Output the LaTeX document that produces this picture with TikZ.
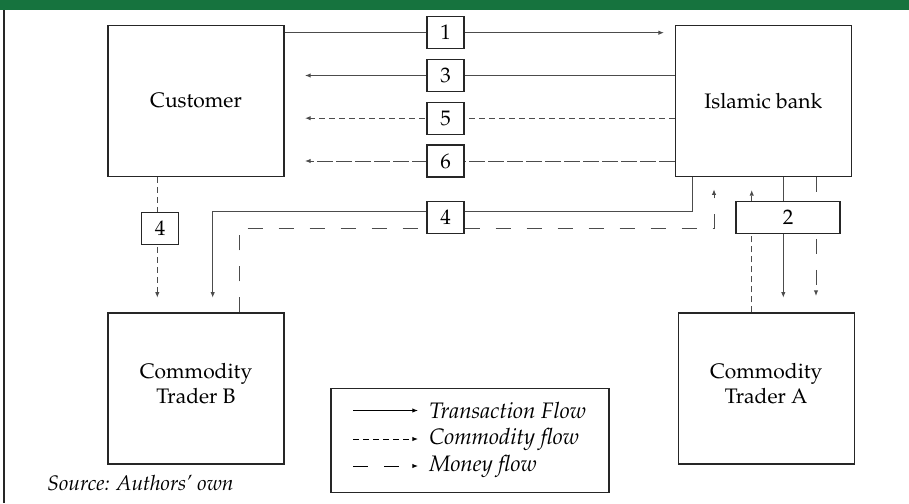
\documentclass[tikz,border=0pt]{standalone}
\usepackage[T1]{fontenc}
\usepackage{mathpazo}
\usepackage{xcolor}
\usepackage{tikz}
\usetikzlibrary{arrows.meta,backgrounds}

\definecolor{bandgreen}{RGB}{22,115,62}

\tikzset{
  party/.style={draw=black!85, line width=0.6pt, fill=white, minimum width=88pt, minimum height=75.5pt, inner sep=0pt, align=center},
  numbox/.style={draw=black!85, line width=0.6pt, fill=white, minimum width=18.5pt, minimum height=16pt, inner sep=0pt},
  legtext/.style={anchor=west, inner sep=0pt, font=\fontsize{11.2}{13.4}\selectfont\itshape},
  srctext/.style={anchor=west, inner sep=0pt, font=\fontsize{10.5}{12.6}\selectfont\itshape},
  trans/.style={black!70, line width=0.5pt},
  goods/.style={black!70, line width=0.5pt, dash pattern=on 3pt off 2pt},
  money/.style={black!70, line width=0.5pt, dash pattern=on 7.5pt off 8pt},
  moneytight/.style={black!70, line width=0.5pt, dash pattern=on 8pt off 1.5pt},
  flowtip/.style={-{Latex[length=2.8pt,width=2.2pt]}}
}

\begin{document}
\begin{tikzpicture}[x=0.5pt, y=-0.5pt, font=\fontsize{10.5}{12.6}\selectfont]
  \useasboundingbox (0,0) rectangle (909,503);

  % Frame
  \fill[bandgreen] (0,0) rectangle (909,10);
  \draw[black!85, line width=0.6pt] (4,10) -- (4,503);

  % Parties
  \node[party] (cust) at (196,100.8) {Customer};
  \node[party] (bank) at (763.3,100.8) {Islamic bank};
  \node[party, text depth=5.5pt] (tradB) at (196,388.5) {Commodity\\Trader B};
  \node[party, text depth=5.5pt] (tradA) at (766.2,388.5) {Commodity\\Trader A};

  % Step numbers
  \node[numbox] (n1) at (445.5,32.7) {1};
  \node[numbox] (n3) at (445.5,75.5) {3};
  \node[numbox] (n5) at (445.5,118.2) {5};
  \node[numbox] (n6) at (445.5,161) {6};
  \node[numbox] (n4a) at (160,228.2) {4};
  \node[numbox] (n4b) at (445.5,217.5) {4};
  \node[numbox, minimum width=52pt] (n2) at (788,217.6) {2};

  % Free ends and bends
  \coordinate (e1) at (664,32.7);
  \coordinate (e3) at (305,75.5);
  \coordinate (e5) at (305,118.2);
  \coordinate (e6) at (305,161);
  \coordinate (e4) at (157.3,297.7);
  \coordinate (eB) at (212.7,297.7);
  \coordinate (eM) at (714,189.3);
  \coordinate (eG) at (751.7,190);
  \coordinate (eA) at (783.3,297.7);
  \coordinate (eAm) at (816,296);
  \coordinate (k1) at (692.7,211);
  \coordinate (k2) at (239,228);

  % Flows
  \begin{scope}[on background layer]
    \draw[trans,flowtip] (cust.east |- e1) -- (e1);
    \draw[trans,flowtip] (bank.west |- e3) -- (e3);
    \draw[goods,flowtip] (bank.west |- e5) -- (e5);
    \draw[moneytight,flowtip] (bank.west |- e6) -- (e6);
    \draw[goods,flowtip] (cust.south -| e4) -- (e4);
    \draw[trans,flowtip] (bank.south -| k1) -- (k1) -| (eB);
    \draw[money,flowtip] (tradB.north -| k2) -- (k2) -| (eM);
    \draw[goods,flowtip] (tradA.north -| eG) -- (eG);
    \draw[trans,flowtip] (bank.south -| eA) -- (eA);
    \draw[money,flowtip] (bank.south -| eAm) -- (eAm);
  \end{scope}

  % Legend
  \node[draw=black!85, line width=0.6pt, minimum width=139pt, minimum height=52pt, inner sep=0pt] (leg) at (470,440.2) {};
  \node[legtext] (lt1) at (429,410.5) {Transaction Flow};
  \node[legtext] (lt2) at (429,439) {Commodity flow};
  \node[legtext] (lt3) at (429,466) {Money flow};
  \draw[trans,black,flowtip] ([xshift=-38pt]lt1.west) -- ([xshift=-5.5pt]lt1.west);
  \draw[goods,black,flowtip] ([xshift=-38pt]lt2.west) -- ([xshift=-5.5pt]lt2.west);
  \draw[money,black,flowtip] ([xshift=-38pt]lt3.west) -- ([xshift=-5.5pt]lt3.west);

  % Source
  \node[srctext] (src) at (47,483) {Source: Authors' own};
\end{tikzpicture}
\end{document}
